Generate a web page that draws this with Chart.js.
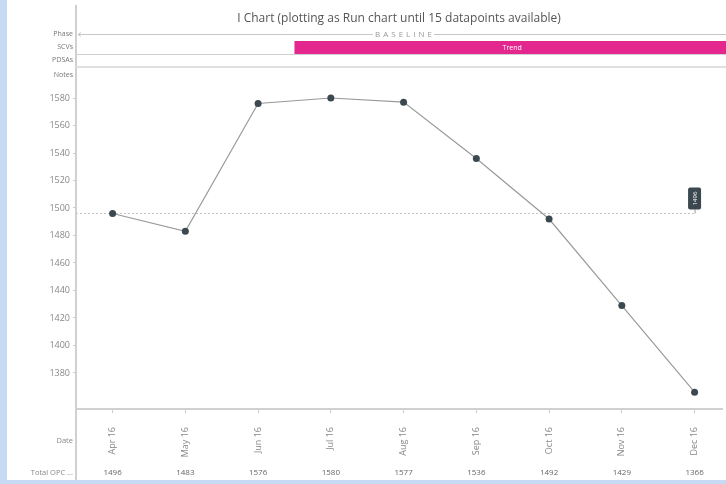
<!DOCTYPE html>
<html><head><meta charset="utf-8">
<script src="https://cdn.jsdelivr.net/npm/chart.js@4.4.1/dist/chart.umd.min.js"></script>
<style>
html,body{margin:0;padding:0;background:#c6daf4;width:726px;height:484px;overflow:hidden}
#wrap{position:absolute;left:7px;top:0;width:719px;height:480px;background:#fff}
</style></head><body>
<div id="wrap"><canvas id="c" width="719" height="480"></canvas></div>
<script>
const titleText = 'I Chart (plotting as Run chart until 15 datapoints available)';
const categories = ['Apr 16','May 16','Jun 16','Jul 16','Aug 16','Sep 16','Oct 16','Nov 16','Dec 16'];
const totalOPC = [1496,1483,1576,1580,1577,1536,1492,1429,1366];
const baselineMean = 1496;
const yTicks = [1380,1400,1420,1440,1460,1480,1500,1520,1540,1560,1580];
const rowLabels = ['Phase','SCVs','PDSAs','Notes'];
const phaseLabel = 'BASELINE';
const trendLabel = 'Trend';
const trendStartIndex = 2.5;

const FONT = '"Open Sans", "Noto Sans", sans-serif';
const X_MIN = -0.503, X_MAX = 8.377;

const overlay = {
  id: 'overlay',
  afterDraw(chart) {
    const ctx = chart.ctx, ca = chart.chartArea;
    const xs = chart.scales.x, ys = chart.scales.y;
    const W = chart.width, H = chart.height;
    ctx.save();
    ctx.strokeStyle = '#d0d0d0'; ctx.lineWidth = 2;
    ctx.beginPath(); ctx.moveTo(ca.left, 5); ctx.lineTo(ca.left, H); ctx.stroke();
    ctx.font = '7px ' + FONT; ctx.fillStyle = '#777'; ctx.textAlign = 'right'; ctx.textBaseline = 'middle';
    const rowY = [34, 47, 60, 75];
    rowLabels.forEach((t, i) => ctx.fillText(t, ca.left - 3, rowY[i]));
    const mid = (ca.left + ca.right) / 2;
    ctx.strokeStyle = '#c8c8c8'; ctx.lineWidth = 1;
    ctx.beginPath(); ctx.moveTo(ca.left + 2, 34.5); ctx.lineTo(mid - 26, 34.5);
    ctx.moveTo(mid + 35, 34.5); ctx.lineTo(W, 34.5); ctx.stroke();
    ctx.beginPath(); ctx.moveTo(ca.left + 5, 32.5); ctx.lineTo(ca.left + 2, 34.5); ctx.lineTo(ca.left + 5, 36.5); ctx.stroke();
    ctx.fillStyle = '#999'; ctx.textAlign = 'center'; ctx.font = '8px ' + FONT;
    if ('letterSpacing' in ctx) ctx.letterSpacing = '3px';
    ctx.fillText(phaseLabel, mid + 6, 34.5);
    if ('letterSpacing' in ctx) ctx.letterSpacing = '0px';
    const tx = xs.getPixelForValue(trendStartIndex);
    ctx.fillStyle = '#e3278e';
    ctx.fillRect(tx, 41, W - tx, 13);
    ctx.fillStyle = '#fff'; ctx.font = '7px ' + FONT;
    ctx.fillText(trendLabel, (tx + W) / 2 + 2, 47.5);
    ctx.strokeStyle = '#d0d0d0'; ctx.lineWidth = 1;
    ctx.beginPath(); ctx.moveTo(ca.left, 54.5); ctx.lineTo(W, 54.5); ctx.stroke();
    ctx.strokeStyle = '#e0e0e0'; ctx.lineWidth = 2;
    ctx.beginPath(); ctx.moveTo(ca.left, 67); ctx.lineTo(W, 67); ctx.stroke();
    ctx.fillStyle = '#888'; ctx.textAlign = 'right'; ctx.font = '7.5px ' + FONT;
    ctx.fillText('Date', ca.left - 3, 441);
    ctx.fillText('Total OPC ...', ca.left - 3, 473);
    ctx.textAlign = 'center'; ctx.fillStyle = '#666'; ctx.font = '8px ' + FONT;
    totalOPC.forEach((v, i) => ctx.fillText(String(v), xs.getPixelForValue(i), 473));
    const mx = xs.getPixelForValue(categories.length - 1), my = ys.getPixelForValue(baselineMean);
    ctx.strokeStyle = '#999'; ctx.lineWidth = 1;
    ctx.beginPath(); ctx.moveTo(mx + 0.5, my - 4); ctx.lineTo(mx + 0.5, my); ctx.stroke();
    ctx.fillStyle = '#3b4850';
    ctx.beginPath();
    if (ctx.roundRect) ctx.roundRect(mx - 6.5, my - 26, 13, 22, 2); else ctx.rect(mx - 6.5, my - 26, 13, 22);
    ctx.fill();
    ctx.translate(mx, my - 15); ctx.rotate(-Math.PI / 2);
    ctx.fillStyle = '#fff'; ctx.font = '6px ' + FONT; ctx.textAlign = 'center';
    ctx.fillText(String(baselineMean), 0, 0.5);
    ctx.restore();
  }
};

new Chart(document.getElementById('c'), {
  type: 'scatter',
  data: {
    datasets: [
      {
        data: [{x: X_MIN, y: baselineMean}, {x: categories.length - 1, y: baselineMean}],
        showLine: true, borderColor: '#c4c4c4', borderWidth: 1, borderDash: [2, 2],
        pointRadius: 0, order: 2
      },
      {
        data: totalOPC.map((v, i) => ({x: i, y: v})),
        showLine: true, borderColor: '#9a9a9a', borderWidth: 1.2,
        pointRadius: 3.5, pointBackgroundColor: '#3b4850', pointBorderWidth: 0,
        order: 1
      }
    ]
  },
  options: {
    responsive: false, animation: false,
    layout: { padding: 0 },
    plugins: {
      legend: { display: false }, tooltip: { enabled: false },
      title: {
        display: true, text: titleText, fullSize: false,
        color: '#555', font: { family: FONT, size: 12, weight: 'normal' },
        padding: { top: 11, bottom: 54.6 }
      }
    },
    scales: {
      x: {
        type: 'linear', min: X_MIN, max: X_MAX,
        afterBuildTicks: s => { s.ticks = categories.map((c, i) => ({ value: i })); },
        afterFit: s => { s.height = 71; },
        ticks: {
          callback: (v) => categories[v], minRotation: 90, maxRotation: 90,
          color: '#888', font: { family: FONT, size: 9 }, padding: 14
        },
        grid: { drawOnChartArea: false, tickLength: 4, color: '#ccc' },
        border: { color: '#d0d0d0', width: 2 }
      },
      y: {
        min: 1353.8, max: 1593.1,
        afterBuildTicks: s => { s.ticks = yTicks.map(v => ({ value: v })); },
        afterFit: s => { s.width = 69; },
        ticks: { callback: v => String(v), color: '#888', font: { family: FONT, size: 9 }, padding: 3 },
        grid: { drawOnChartArea: false, tickLength: 3, color: '#ccc' },
        border: { color: '#d0d0d0', width: 2 }
      }
    }
  },
  plugins: [overlay]
});
</script>
</body></html>
